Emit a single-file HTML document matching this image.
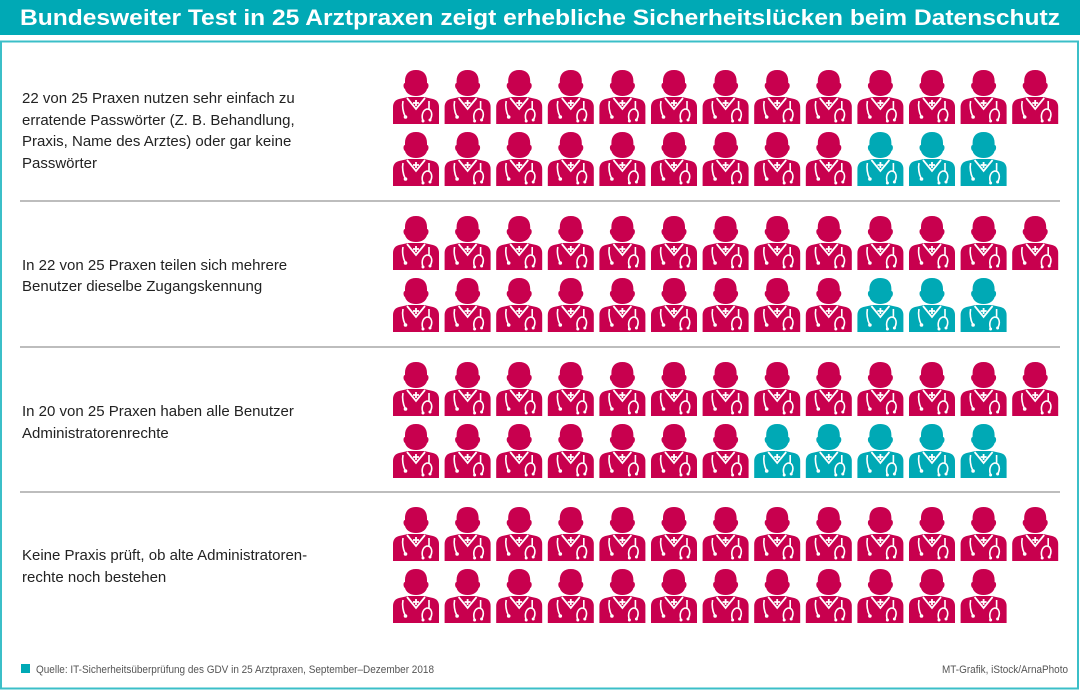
<!DOCTYPE html>
<html><head><meta charset="utf-8"><style>
html,body{margin:0;padding:0;background:#fff}
svg{display:block}
text{font-family:"Liberation Sans",sans-serif}
</style></head><body>
<svg width="1080" height="691" viewBox="0 0 1080 691" xmlns="http://www.w3.org/2000/svg">
<defs>
<g id="doc">
  <path d="M23 2 C16 2 12 6 12 13 L12 15 C10 15 10 20 12 21 C13 25 17 28 23 28 C29 28 33 25 34 21 C36 20 36 15 34 15 L34 13 C34 6 30 2 23 2 Z"/>
  <path d="M15 29 L31 29 L40 31 C44 32 46 35 46 39 L46 56 L0 56 L0 39 C0 35 2 32 6 31 Z"/>
  <path d="M14 30 L23 41 L32 30" fill="none" stroke="#fff" stroke-width="1.8"/>
  <path d="M23 32 V38 M20 35 H26" stroke="#fff" stroke-width="1.8"/>
  <path d="M10 33 C9 38 10 44 12 48" fill="none" stroke="#fff" stroke-width="1.6"/>
  <circle cx="12.5" cy="49" r="1.8" fill="#fff"/>
  <path d="M36 33 V41 M30 53 C28 47 30 42 34 41 C39 41 40 47 37 52" fill="none" stroke="#fff" stroke-width="1.6"/>
  <circle cx="30" cy="53" r="1.5" fill="#fff"/>
  <circle cx="37" cy="52" r="1.5" fill="#fff"/>
</g>
</defs>
<rect x="0" y="0" width="1080" height="35" fill="#00a9b5"/>
<text x="20" y="25" fill="#fff" font-size="22" font-weight="bold" textLength="1040" lengthAdjust="spacingAndGlyphs">Bundesweiter Test in 25 Arztpraxen zeigt erhebliche Sicherheitslücken beim Datenschutz</text>
<rect x="1" y="41.5" width="1077" height="647" fill="none" stroke="#3bbfc8" stroke-width="2"/>
<g fill="#bdbdbd">
<rect x="20" y="200" width="1040" height="2"/>
<rect x="20" y="346" width="1040" height="2"/>
<rect x="20" y="491" width="1040" height="2"/>
</g>
<g font-size="15" fill="#222">
<text x="22" y="103">22 von 25 Praxen nutzen sehr einfach zu</text>
<text x="22" y="125">erratende Passwörter (Z. B. Behandlung,</text>
<text x="22" y="146">Praxis, Name des Arztes) oder gar keine</text>
<text x="22" y="168">Passwörter</text>
<text x="22" y="270">In 22 von 25 Praxen teilen sich mehrere</text>
<text x="22" y="291">Benutzer dieselbe Zugangskennung</text>
<text x="22" y="416">In 20 von 25 Praxen haben alle Benutzer</text>
<text x="22" y="438">Administratorenrechte</text>
<text x="22" y="560">Keine Praxis prüft, ob alte Administratoren-</text>
<text x="22" y="582">rechte noch bestehen</text>
</g>
<rect x="21" y="664" width="9" height="9" fill="#00a9b5"/>
<text x="36" y="673" font-size="11" fill="#555" textLength="398" lengthAdjust="spacingAndGlyphs">Quelle: IT-Sicherheitsüberprüfung des GDV in 25 Arztpraxen, September–Dezember 2018</text>
<text x="1068" y="673" font-size="11" fill="#555" text-anchor="end" textLength="126" lengthAdjust="spacingAndGlyphs">MT-Grafik, iStock/ArnaPhoto</text>
<g id="icons"></g>
</svg>
<script>
(function(){
var g=document.getElementById('icons');var ns='http://www.w3.org/2000/svg';
var tops=[[68,130],[214,276],[360,422],[505,567]];
var mag=[22,22,20,25];
for(var k=0;k<4;k++){var n=0;
 for(var r=0;r<2;r++){var cnt=r==0?13:12;
  for(var i=0;i<cnt;i++){n++;
   var u=document.createElementNS(ns,'use');
   u.setAttribute('href','#doc');
   u.setAttribute('x',(393+i*51.6).toFixed(1));
   u.setAttribute('y',tops[k][r]);
   u.setAttribute('fill',n<=mag[k]?'#c8004e':'#00a9b5');
   g.appendChild(u);}}}
})();
</script>
</body></html>
